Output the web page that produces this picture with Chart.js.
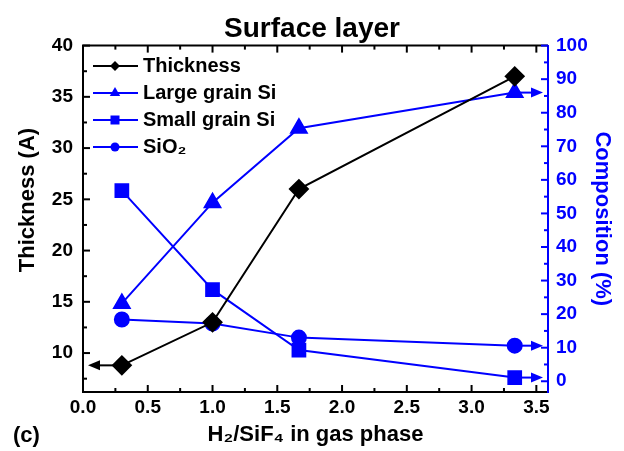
<!DOCTYPE html>
<html>
<head>
<meta charset="utf-8">
<script src="https://cdn.jsdelivr.net/npm/chart.js@4/dist/chart.umd.min.js"></script>
<style>
  html, body { margin: 0; padding: 0; background: #fff; }
</style>
</head>
<body>
<canvas id="chart" width="624" height="451"></canvas>
<script>
// values
const xValues    = [0.3, 1.0, 1.667, 3.333];   // H2/SiF4 ratio
const thickness  = [8.8, 13.0, 26.0, 37.0];    // A
const largeGrain = [23.2, 53.2, 75.4, 86.0];   // %
const smallGrain = [56.8, 27.3, 9.3, 1.1];     // %
const sio2       = [18.4, 17.2, 13.0, 10.6];   // %

const seriesNames = ['Thickness', 'Large grain Si', 'Small grain Si', 'SiO\u2082'];
const xTickLabels = ['0.0', '0.5', '1.0', '1.5', '2.0', '2.5', '3.0', '3.5'];

const BLUE = '#0000ff';
const FONT = "'Liberation Sans', Arial, sans-serif";

function pts(ys) {
  return xValues.map((x, i) => ({ x: x, y: ys[i] }));
}

function marker(ctx, style, x, y, r, color) {
  ctx.save();
  ctx.fillStyle = color;
  ctx.beginPath();
  if (style === 'diamond') {
    ctx.moveTo(x, y - r); ctx.lineTo(x + r, y); ctx.lineTo(x, y + r); ctx.lineTo(x - r, y);
  } else if (style === 'triangle') {
    ctx.moveTo(x, y - r); ctx.lineTo(x + r * 0.87, y + r * 0.5); ctx.lineTo(x - r * 0.87, y + r * 0.5);
  } else if (style === 'square') {
    ctx.rect(x - r, y - r, 2 * r, 2 * r);
  } else {
    ctx.arc(x, y, r, 0, Math.PI * 2);
  }
  ctx.closePath();
  ctx.fill();
  ctx.restore();
}

function arrow(ctx, x0, y, x1, color) {
  const dir = Math.sign(x1 - x0);
  ctx.save();
  ctx.strokeStyle = color;
  ctx.fillStyle = color;
  ctx.lineWidth = 2;
  ctx.beginPath();
  ctx.moveTo(x0, y);
  ctx.lineTo(x1 - dir * 10, y);
  ctx.stroke();
  ctx.beginPath();
  ctx.moveTo(x1, y);
  ctx.lineTo(x1 - dir * 12, y - 5);
  ctx.lineTo(x1 - dir * 12, y + 5);
  ctx.closePath();
  ctx.fill();
  ctx.restore();
}

function seg(ctx, x0, y0, x1, y1) {
  ctx.beginPath();
  ctx.moveTo(x0, y0);
  ctx.lineTo(x1, y1);
  ctx.stroke();
}

const decor = {
  id: 'decor',
  beforeDatasetsDraw(chart) {
    const ctx = chart.ctx, a = chart.chartArea;
    const sx = chart.scales.x, sy = chart.scales.y, sy1 = chart.scales.y1;
    // arrows pointing to the axis each series belongs to
    arrow(ctx, sx.getPixelForValue(xValues[0]), sy.getPixelForValue(thickness[0]), a.left + 5, '#000');
    const last = xValues.length - 1;
    [largeGrain, smallGrain, sio2].forEach(s => {
      arrow(ctx, sx.getPixelForValue(xValues[last]), sy1.getPixelForValue(s[last]), a.right - 5, BLUE);
    });
  },
  afterDraw(chart) {
    const ctx = chart.ctx, a = chart.chartArea;
    const sx = chart.scales.x, sy = chart.scales.y, sy1 = chart.scales.y1;
    ctx.save();
    ctx.lineWidth = 2;
    ctx.strokeStyle = '#000';
    seg(ctx, a.left - 1, a.top, a.right, a.top);

    // inward ticks, major + minor
    for (let v = 0; v <= sx.max + 1e-9; v += 0.25) {
      const px = sx.getPixelForValue(v);
      const len = Math.abs(v / 0.5 - Math.round(v / 0.5)) < 1e-6 ? 7 : 4;
      seg(ctx, px, a.bottom, px, a.bottom - len);
      seg(ctx, px, a.top, px, a.top + len);
    }
    for (let v = 7.5; v <= sy.max + 1e-9; v += 2.5) {
      const py = sy.getPixelForValue(v);
      const len = v % 5 === 0 ? 7 : 4;
      seg(ctx, a.left, py, a.left + len, py);
    }
    ctx.strokeStyle = BLUE;
    for (let v = 0; v <= sy1.max + 1e-9; v += 5) {
      const py = sy1.getPixelForValue(v);
      const len = v % 10 === 0 ? 7 : 4;
      seg(ctx, a.right, py, a.right - len, py);
    }

    // legend inside the plot
    const styles = ['diamond', 'triangle', 'square', 'circle'];
    const colors = ['#000', BLUE, BLUE, BLUE];
    const sizes = [5, 6, 4.5, 4.5];
    ctx.font = 'bold 20px ' + FONT;
    ctx.textBaseline = 'middle';
    seriesNames.forEach((name, i) => {
      const y = 66 + i * 27;
      ctx.strokeStyle = colors[i];
      seg(ctx, 93, y, 138, y);
      marker(ctx, styles[i], 115, y, sizes[i], colors[i]);
      ctx.fillStyle = '#000';
      ctx.fillText(name, 143, y);
    });

    // left axis title (sits a bit above the axis centre in the original)
    ctx.save();
    ctx.translate(28, 200);
    ctx.rotate(-Math.PI / 2);
    ctx.textAlign = 'center';
    ctx.font = 'bold 22px ' + FONT;
    ctx.fillStyle = '#000';
    ctx.fillText('Thickness (A)', 0, 0);
    ctx.restore();

    // panel label
    ctx.font = 'bold 22px ' + FONT;
    ctx.fillStyle = '#000';
    ctx.fillText('(c)', 13, 436);
    ctx.restore();
  }
};

new Chart(document.getElementById('chart'), {
  type: 'line',
  data: {
    datasets: [
      {
        label: seriesNames[0],
        data: pts(thickness),
        yAxisID: 'y',
        borderColor: '#000',
        backgroundColor: '#000',
        borderWidth: 2,
        pointStyle: 'rectRot',
        pointRadius: 9,
        tension: 0
      },
      {
        label: seriesNames[1],
        data: pts(largeGrain),
        yAxisID: 'y1',
        borderColor: BLUE,
        backgroundColor: BLUE,
        borderWidth: 2,
        pointStyle: 'triangle',
        pointRadius: 9,
        tension: 0
      },
      {
        label: seriesNames[2],
        data: pts(smallGrain),
        yAxisID: 'y1',
        borderColor: BLUE,
        backgroundColor: BLUE,
        borderWidth: 2,
        pointStyle: 'rect',
        pointRadius: 9,
        tension: 0
      },
      {
        label: seriesNames[3],
        data: pts(sio2),
        yAxisID: 'y1',
        borderColor: BLUE,
        backgroundColor: BLUE,
        borderWidth: 2,
        pointStyle: 'circle',
        pointRadius: 7,
        tension: 0
      }
    ]
  },
  options: {
    responsive: false,
    animation: false,
    devicePixelRatio: 1,
    layout: { padding: 0 },
    scales: {
      x: {
        type: 'linear',
        min: 0,
        max: 3.59,
        afterFit(scale) { scale.height = 59; },
        border: { color: '#000', width: 2 },
        grid: { display: false, drawTicks: false },
        ticks: {
          stepSize: 0.5,
          includeBounds: false,
          padding: 4,
          color: '#000',
          font: { family: FONT, size: 19, weight: 'bold' },
          callback: (v) => xTickLabels[Math.round(v / 0.5)]
        },
        title: {
          display: true,
          text: 'H\u2082/SiF\u2084 in gas phase',
          color: '#000',
          font: { family: FONT, size: 22, weight: 'bold' },
          padding: { top: 0, bottom: 3 }
        }
      },
      y: {
        position: 'left',
        min: 6.2,
        max: 40,
        afterFit(scale) { scale.width = 83; },
        border: { color: '#000', width: 2 },
        grid: { display: false, drawTicks: false },
        ticks: {
          stepSize: 5,
          includeBounds: false,
          padding: 10,
          color: '#000',
          font: { family: FONT, size: 19, weight: 'bold' }
        }
      },
      y1: {
        position: 'right',
        min: -3.2,
        max: 100,
        afterFit(scale) { scale.width = 76; },
        border: { color: BLUE, width: 2 },
        grid: { display: false, drawTicks: false },
        ticks: {
          stepSize: 10,
          includeBounds: false,
          padding: 8,
          color: BLUE,
          font: { family: FONT, size: 19, weight: 'bold' }
        },
        title: {
          display: true,
          text: 'Composition (%)',
          color: BLUE,
          font: { family: FONT, size: 22, weight: 'bold' },
          padding: { top: 9, bottom: 0 }
        }
      }
    },
    plugins: {
      legend: { display: false },
      tooltip: { enabled: false },
      title: {
        display: true,
        text: 'Surface layer',
        color: '#000',
        font: { family: FONT, size: 28, weight: 'bold' },
        padding: { top: 12, bottom: 0 }
      }
    }
  },
  plugins: [decor]
});
</script>
</body>
</html>
